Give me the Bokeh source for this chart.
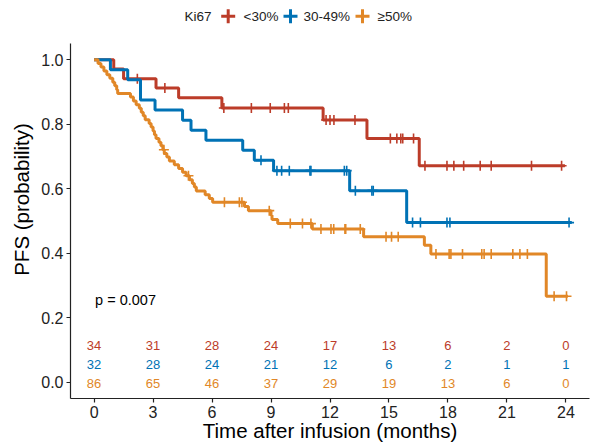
import numpy as np
from bokeh.plotting import figure
from bokeh.models import Range1d, FixedTicker, PrintfTickFormatter, Label
from bokeh.core.properties import value
from bokeh.embed import file_html
from bokeh.resources import INLINE

# ---------------- data ----------------
groups = ["<30%", "30-49%", "≥50%"]
colors = ["#BC3C29", "#0072B5", "#E18727"]
legend_title = "Ki67"

# Ki67 < 30%
low_event_t = [1.0, 1.5, 3.15, 4.3, 6.5, 11.65, 13.88, 16.54]
low_surv = [0.971, 0.941, 0.912, 0.882, 0.850, 0.813, 0.756, 0.671]
low_censor_t = [2.2, 3.6, 6.6, 8.0, 8.96, 9.68, 9.88, 11.8, 12.0, 12.2, 13.27,
                15.07, 15.4, 15.6, 15.7, 16.25, 16.83, 17.95, 18.3, 18.8,
                19.64, 20.2, 22.25, 23.78]
low_end = 23.95

# Ki67 30-49%
mid_event_t = [0.83, 1.71, 2.36, 3.1, 4.5, 4.93, 5.69, 7.56, 8.15, 9.13, 13.0, 15.9]
mid_surv = [0.969, 0.938, 0.875, 0.844, 0.8125, 0.781, 0.750, 0.719, 0.688,
            0.656, 0.594, 0.495]
mid_censor_t = [8.49, 9.3, 9.54, 9.93, 10.98, 11.03, 12.73, 12.85, 13.29,
                14.13, 14.2, 16.2, 16.6, 17.95, 18.1, 24.16]
mid_end = 24.3

# Ki67 >= 50%
high_event_t = [0.2, 0.35, 0.5, 0.65, 0.8, 0.95, 1.05, 1.15, 1.2, 1.85, 2.0,
                2.14, 2.3, 2.4, 2.5, 2.6, 2.8, 2.9, 3.0, 3.07, 3.15, 3.3, 3.4,
                3.5, 3.57, 3.7, 3.83, 4.08, 4.3, 4.5, 4.68, 4.85, 5.0, 5.1,
                5.2, 5.65, 5.86, 6.03, 7.65, 7.85, 9.0, 9.05, 9.34, 11.1,
                13.71, 16.8, 17.13, 23.0]
high_surv = [0.988, 0.977, 0.965, 0.953, 0.942, 0.930, 0.919, 0.907, 0.895,
             0.884, 0.872, 0.860, 0.849, 0.837, 0.826, 0.814, 0.802, 0.791,
             0.779, 0.767, 0.756, 0.744, 0.733, 0.721, 0.709, 0.698, 0.686,
             0.674, 0.663, 0.651, 0.640, 0.628, 0.616, 0.605, 0.593, 0.581,
             0.570, 0.558, 0.545, 0.532, 0.518, 0.505, 0.492, 0.475, 0.451,
             0.425, 0.398, 0.267]
high_censor_t = [3.55, 4.8, 6.63, 7.39, 7.52, 8.91, 9.98, 10.6, 11.03, 11.54,
                 12.05, 12.19, 12.76, 12.8, 13.54, 14.85, 15.13, 15.47, 17.39,
                 18.06, 18.15, 18.74, 19.72, 19.84, 20.2, 21.3, 21.66, 22.04,
                 23.4, 24.03]
high_end = 24.1

# numbers at risk
risk_times = [0, 3, 6, 9, 12, 15, 18, 21, 24]
risk_low = [34, 31, 28, 24, 17, 13, 6, 2, 0]
risk_mid = [32, 28, 24, 21, 12, 6, 2, 1, 1]
risk_high = [86, 65, 46, 37, 29, 19, 13, 6, 0]

y_ticks = [0.0, 0.2, 0.4, 0.6, 0.8, 1.0]
p_text = "p = 0.007"

# ---------------- figure ----------------
FONT = "Liberation Sans"
W, H = 600, 444
X0, X1 = -1.2, 25.2
Y0, Y1 = -0.05, 1.05
PX_PER_Y = 322.7
TOP_PAD = 43                       # legend strip above the panel (px)
Y_TOP = Y1 + TOP_PAD / PX_PER_Y    # extend range so legend lives in frame

p = figure(width=W, height=H, output_backend="svg", toolbar_location=None,
           x_range=Range1d(X0, X1), y_range=Range1d(Y0, Y_TOP),
           min_border_left=70, min_border_right=11, min_border_top=0,
           min_border_bottom=46)
p.outline_line_color = None
p.xgrid.visible = False
p.ygrid.visible = False
p.background_fill_color = "white"
p.border_fill_color = "white"

series = [
    (low_event_t, low_surv, low_censor_t, low_end, risk_low),
    (mid_event_t, mid_surv, mid_censor_t, mid_end, risk_mid),
    (high_event_t, high_surv, high_censor_t, high_end, risk_high),
]

for i, (et, sv, ct, end, risk) in enumerate(series):
    col = colors[i]
    xs = [0.0] + list(et) + [end]
    ys = [1.0] + list(sv) + [sv[-1]]
    p.step(xs, ys, mode="after", line_color=col, line_width=3)
    et_arr = np.array(et)
    idx = np.searchsorted(et_arr, np.array(ct), side="right")
    cy = np.array([1.0] + list(sv))[idx]
    p.scatter(ct, cy, marker="cross", size=10, line_color=col, line_width=1.6)

# risk table inside the plot
row_y = [0.115, 0.055, -0.003]
for i, (et, sv, ct, end, risk) in enumerate(series):
    p.text(x=risk_times, y=[row_y[i]] * len(risk_times),
           text=[str(v) for v in risk], text_color=colors[i],
           text_font=value(FONT), text_font_size="13px",
           text_align="center", text_baseline="middle")

# p value
p.add_layout(Label(x=0.05, y=0.255, text=p_text, text_font=FONT,
                   text_font_size="14.5px", text_color="black",
                   text_baseline="middle", text_align="left"))

# legend strip at the top (positions converted from pixels to data units)
def px_to_x(px):
    return X0 + (px - 70) / (W - 70 - 11) * (X1 - X0)

leg_y = Y_TOP - 15.7 / PX_PER_Y
p.text(x=[px_to_x(184)], y=[leg_y], text=[legend_title], text_color="#222222",
       text_font=value(FONT), text_font_size="13.5px",
       text_align="left", text_baseline="middle")
key_x = [px_to_x(v) for v in (227.7, 290.0, 362.0)]
lab_x = [px_to_x(v) for v in (243.0, 303.0, 377.0)]
p.scatter(x=key_x, y=[leg_y] * 3, marker="cross", size=14,
          line_color=colors, line_width=3)
p.text(x=lab_x, y=[leg_y] * 3, text=groups, text_color="#222222",
       text_font=value(FONT), text_font_size="13.5px",
       text_align="left", text_baseline="middle")

# axes
for ax in (p.xaxis[0], p.yaxis[0]):
    ax.axis_line_color = "#222222"
    ax.axis_line_width = 1.2
    ax.major_tick_line_color = "#222222"
    ax.major_tick_line_width = 1.2
    ax.major_tick_out = 4
    ax.major_tick_in = 0
    ax.minor_tick_line_color = None
    ax.major_label_text_font = FONT
    ax.major_label_text_font_size = "16px"
    ax.major_label_text_color = "#222222"
    ax.axis_label_text_font = FONT
    ax.axis_label_text_font_size = "20.5px"
    ax.axis_label_text_font_style = "normal"
    ax.axis_label_text_color = "black"

p.xaxis.ticker = FixedTicker(ticks=risk_times)
p.yaxis.ticker = FixedTicker(ticks=y_ticks)
p.yaxis.formatter = PrintfTickFormatter(format="%.1f")
p.yaxis.bounds = (Y0, Y1)
p.xaxis.axis_label = "Time after infusion (months)"
p.yaxis.axis_label = "PFS (probability)"
p.xaxis.major_label_standoff = 3
p.yaxis.major_label_standoff = 3
p.xaxis.axis_label_standoff = -2
p.yaxis.axis_label_standoff = 5

open("out.html", "w").write(file_html(p, INLINE))
